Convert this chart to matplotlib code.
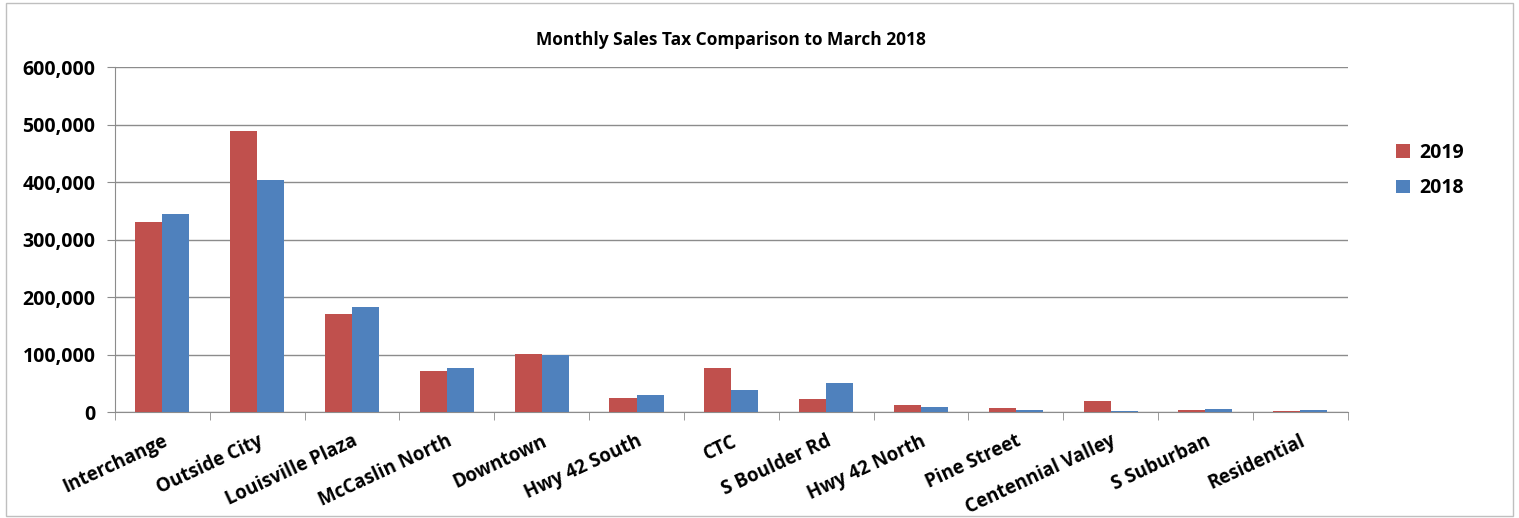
import matplotlib.pyplot as plt
import numpy as np
from matplotlib.patches import Rectangle
from matplotlib.ticker import FuncFormatter

categories = ["Interchange", "Outside City", "Louisville Plaza", "McCaslin North",
              "Downtown", "Hwy 42 South", "CTC", "S Boulder Rd", "Hwy 42 North",
              "Pine Street", "Centennial Valley", "S Suburban", "Residential"]
sales_2019 = [330000, 488000, 171000, 72000, 101000, 24000, 77000, 22000,
              11500, 7500, 18500, 3500, 2000]
sales_2018 = [345000, 403000, 183000, 77000, 99000, 30000, 39000, 50000,
              8000, 4000, 1000, 4500, 3000]

plt.rcParams["font.family"] = ["Open Sans", "DejaVu Sans"]
plt.rcParams["font.weight"] = "bold"

fig = plt.figure(figsize=(15.19, 5.18), dpi=100)
ax = fig.add_axes([0.0757, 0.2046, 0.8115, 0.666])

x = np.arange(len(categories))
w = 0.285
ax.bar(x - w / 2, sales_2019, w, color="#C0504D", label="2019", zorder=3)
ax.bar(x + w / 2, sales_2018, w, color="#4F81BD", label="2018", zorder=3)

ax.set_xlim(-0.5, len(categories) - 0.5)
ax.set_ylim(0, 600000)
ax.set_yticks(range(0, 600001, 100000))
ax.yaxis.set_major_formatter(FuncFormatter(lambda v, p: f"{int(v):,}"))
ax.grid(axis="y", color="#8c8c8c", linewidth=1, zorder=0)

ax.set_xticks(x)
ax.set_xticklabels(categories, rotation=25, ha="right", rotation_mode="anchor",
                   fontsize=13.5, fontweight="bold")
ax.set_xticks(np.arange(-0.5, len(categories)), minor=True)
ax.tick_params(axis="x", which="major", length=0, pad=14)
ax.tick_params(axis="x", which="minor", length=6, color="#8c8c8c")
ax.tick_params(axis="y", length=6, color="#8c8c8c", labelsize=14, pad=8)
for lab in ax.get_yticklabels():
    lab.set_fontweight("bold")

for s in ["top", "right"]:
    ax.spines[s].set_visible(False)
for s in ["left", "bottom"]:
    ax.spines[s].set_color("#8c8c8c")

ax.set_title("Monthly Sales Tax Comparison to March 2018", fontsize=12.5,
             fontweight="bold", pad=16)

ax.legend(loc="center left", bbox_to_anchor=(1.025, 0.70), frameon=False,
          prop={"weight": "bold", "size": 14}, handletextpad=0.5,
          handlelength=0.7, handleheight=0.7, labelspacing=0.8)

fig.patches.append(Rectangle((0.004, 0.004), 0.992, 0.99, transform=fig.transFigure,
                             fill=False, edgecolor="#bfbfbf", linewidth=1))

fig.savefig("out.png", dpi=100)
